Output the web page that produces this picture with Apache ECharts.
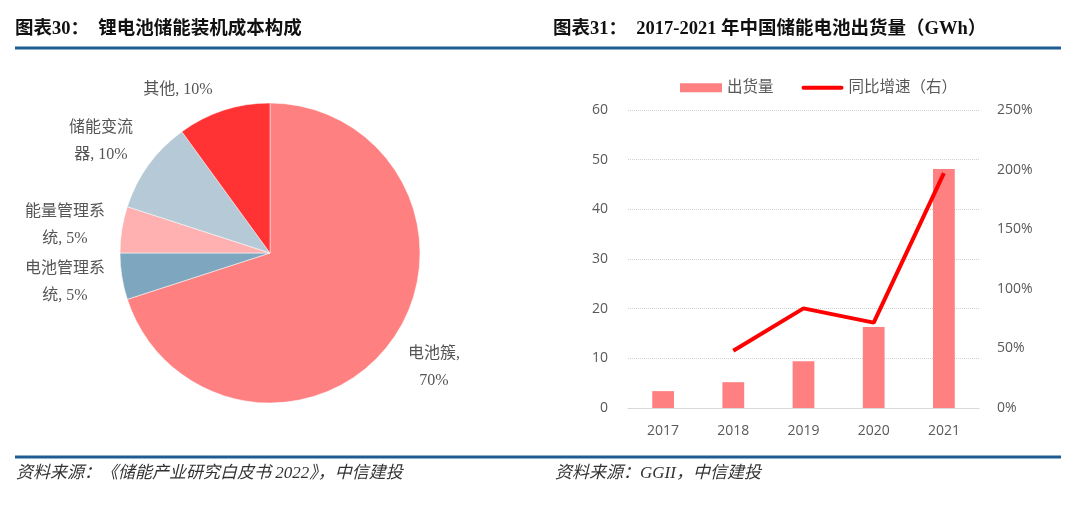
<!DOCTYPE html>
<html>
<head>
<meta charset="utf-8">
<script src="https://cdn.jsdelivr.net/npm/echarts@6/dist/echarts.min.js"></script>
<style>html,body{margin:0;padding:0;background:#fff}#c{width:1080px;height:508px}</style>
</head>
<body>
<div id="c"></div>
<script>
// ---- data ----
var pieNames = ['电池簇', '电池管理系统', '能量管理系统', '储能变流器', '其他'];
var pieLabels = ['电池簇,\n70%', '电池管理系\n统, 5%', '能量管理系\n统, 5%', '储能变流\n器, 10%', '其他, 10%'];
var pieValues = [70, 5, 5, 10, 10];
var years = ['2017', '2018', '2019', '2020', '2021'];
var shipments = [3.4, 5.2, 9.4, 16.3, 48.1];
var growth = [null, 48, 83.6, 71.6, 197];
var leftTicks = [0, 60, 10];
var rightTicks = [0, 250, 50];

var titleLeft = '图表30：  锂电池储能装机成本构成';
var titleRight = '图表31：  2017-2021 年中国储能电池出货量（GWh）';
var srcLeft = '资料来源：《储能产业研究白皮书 2022》，中信建投';
var srcRight = '资料来源：GGII，中信建投';

var pieColors = ['#FF8080', '#7FA6BF', '#FFB1B1', '#B5CAD6', '#FF3333'];
var labelPos = [[434, 367], [65, 282], [65, 225], [101, 141], [178, 90]];

var serif = "'Liberation Serif','Noto Sans CJK SC'";
var chart = echarts.init(document.getElementById('c'), null, {renderer: 'canvas'});

var option = {
  animation: false,
  backgroundColor: '#fff',
  graphic: [
    {type: 'text', left: 15, top: 20, style: {text: titleLeft, font: 'bold 18.5px ' + serif, fill: '#111'}},
    {type: 'text', left: 553, top: 20, style: {text: titleRight, font: 'bold 18.5px ' + serif, fill: '#111'}},
    {type: 'rect', shape: {x: 15, y: 46.5, width: 1046, height: 3}, style: {fill: '#1F5C94'}},
    {type: 'rect', shape: {x: 15, y: 455.5, width: 1046, height: 3}, style: {fill: '#1F5C94'}},
    {type: 'text', left: 16, top: 465, style: {text: srcLeft, font: 'italic 17px ' + serif, fill: '#333'}},
    {type: 'text', left: 555, top: 465, style: {text: srcRight, font: 'italic 17px ' + serif, fill: '#333'}}
  ],
  legend: {
    left: 675, top: 75,
    itemWidth: 42, itemHeight: 9, itemGap: 28,
    textStyle: {color: '#595959', fontSize: 15.5, fontFamily: serif},
    data: [
      {name: '出货量', icon: 'rect'},
      {name: '同比增速（右）', icon: 'path://M2,0 L40,0 A2,2 0 0 1 40,4 L2,4 A2,2 0 0 1 2,0 Z'}
    ]
  },
  grid: {left: 628, right: 101, top: 110, bottom: 100, containLabel: false},
  xAxis: {
    type: 'category', data: years,
    axisLine: {lineStyle: {color: '#D9D9D9', width: 1}},
    axisTick: {show: false},
    axisLabel: {color: '#595959', fontSize: 14, fontFamily: "'Open Sans'", margin: 16}
  },
  yAxis: [
    {type: 'value', min: leftTicks[0], max: leftTicks[1], interval: leftTicks[2],
      axisLine: {show: false}, axisTick: {show: false},
      axisLabel: {color: '#595959', fontSize: 14, fontFamily: "'Open Sans'", margin: 20},
      splitLine: {lineStyle: {color: '#D0D0D0', type: 'dotted', width: 1}}},
    {type: 'value', min: rightTicks[0], max: rightTicks[1], interval: rightTicks[2],
      axisLine: {show: false}, axisTick: {show: false},
      axisLabel: {color: '#595959', fontSize: 14, fontFamily: "'Open Sans'", margin: 18, formatter: '{value}%'},
      splitLine: {show: false}}
  ],
  series: [
    {
      type: 'pie', center: [270, 253], radius: 150, startAngle: 90, clockwise: true,
      data: pieNames.map(function (n, i) {
        return {name: n, value: pieValues[i], itemStyle: {color: pieColors[i]}};
      }),
      itemStyle: {borderColor: '#fff', borderWidth: 0.5},
      label: {
        show: true,
        formatter: function (p) { return pieLabels[p.dataIndex]; },
        color: '#555', fontSize: 16, fontFamily: serif, lineHeight: 27, align: 'center',
        width: 200, overflow: 'none'
      },
      labelLine: {show: false},
      labelLayout: function (p) {
        var pos = labelPos[p.dataIndex];
        return {x: pos[0], y: pos[1], align: 'center', verticalAlign: 'middle', hideOverlap: false};
      },
      emphasis: {disabled: true},
      silent: true
    },
    {
      name: '出货量', type: 'bar', data: shipments, barWidth: '31%',
      itemStyle: {color: '#FF8080'}, yAxisIndex: 0
    },
    {
      name: '同比增速（右）', type: 'line', data: growth, yAxisIndex: 1,
      showSymbol: false, symbol: 'none', connectNulls: false,
      lineStyle: {color: '#FF0000', width: 4}, itemStyle: {color: '#FF0000'}
    }
  ]
};
chart.setOption(option);
</script>
</body>
</html>
